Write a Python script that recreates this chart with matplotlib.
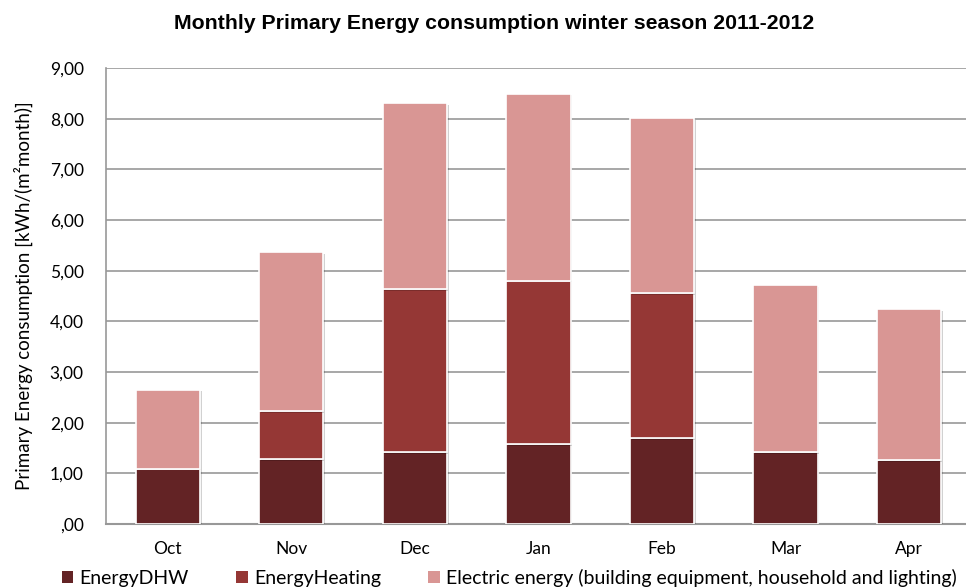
import matplotlib.pyplot as plt
import matplotlib.ticker as mplticker
import matplotlib.patheffects as pe
from matplotlib.patches import Patch
import numpy as np

#
# Data
#

months = ["Oct", "Nov", "Dec", "Jan", "Feb", "Mar", "Apr"]
energy_dhw = [1.09, 1.28, 1.42, 1.58, 1.70, 1.42, 1.26]
energy_heating = [0.00, 0.95, 3.22, 3.22, 2.86, 0.00, 0.00]
electric_energy = [1.56, 3.14, 3.67, 3.69, 3.45, 3.30, 2.98]

series_labels = ["EnergyDHW", "EnergyHeating", "Electric energy (building equipment, household and lighting)"]
colors = ["#632325", "#953735", "#D99694"]

#
# Graph
#

plt.rcParams["font.family"] = ["Lato", "DejaVu Sans"]

fig = plt.figure(figsize=(9.66, 5.88), dpi=100)
axes = fig.add_axes([0.1097, 0.1088, 0.8903, 0.7756])

x = np.arange(len(months))
bottom = np.zeros(len(months))
shadow = [pe.SimplePatchShadow(offset=(1.2, -1.2), shadow_rgbFace="#000000", alpha=0.18), pe.Normal()]
for values, color in zip([energy_dhw, energy_heating, electric_energy], colors):
    values = np.array(values)
    bars = axes.bar(x, values, 0.52, bottom=bottom, color=color, edgecolor="white", linewidth=1.2, zorder=3)
    for bar in bars:
        bar.set_path_effects(shadow)
    bottom += values

axes.set_xlim(-0.5, 6.46)
axes.set_ylim(0, 9)
axes.set_yticks(np.arange(0, 10, 1))


def comma_format(value, _):
    text = f"{value:.2f}".replace(".", ",")
    return text[1:] if text.startswith("0") else text


axes.yaxis.set_major_formatter(mplticker.FuncFormatter(comma_format))
axes.set_xticks(x)
axes.set_xticklabels(months)
axes.tick_params(axis="both", length=0, labelsize=12.5, colors="#000000")
axes.tick_params(axis="y", pad=16)
axes.tick_params(axis="x", pad=12)
axes.grid(axis="y", color="#989898", linewidth=1.2, zorder=0)

for side in ["top", "right"]:
    axes.spines[side].set_visible(False)
axes.spines["left"].set_color("#989898")
axes.spines["bottom"].set_color("#989898")
axes.spines["left"].set_linewidth(1.2)
axes.spines["bottom"].set_linewidth(1.5)

axes.set_ylabel("Primary Energy consumption [kWh/(m²month)]", fontsize=13.5, labelpad=12)
fig.text(0.512, 0.96, "Monthly Primary Energy consumption winter season 2011-2012",
         ha="center", va="center", fontsize=15.3, fontweight="bold", family="Liberation Sans")

handles = [Patch(facecolor=c, edgecolor="none") for c in colors]
fig.legend(handles, series_labels, loc="center left", bbox_to_anchor=(0.064, 0.017), ncol=3,
           frameon=False, fontsize=14, handlelength=0.6, handleheight=0.6, handletextpad=0.3,
           columnspacing=2.45, borderaxespad=0, borderpad=0)

fig.savefig("out.png", dpi=100)
